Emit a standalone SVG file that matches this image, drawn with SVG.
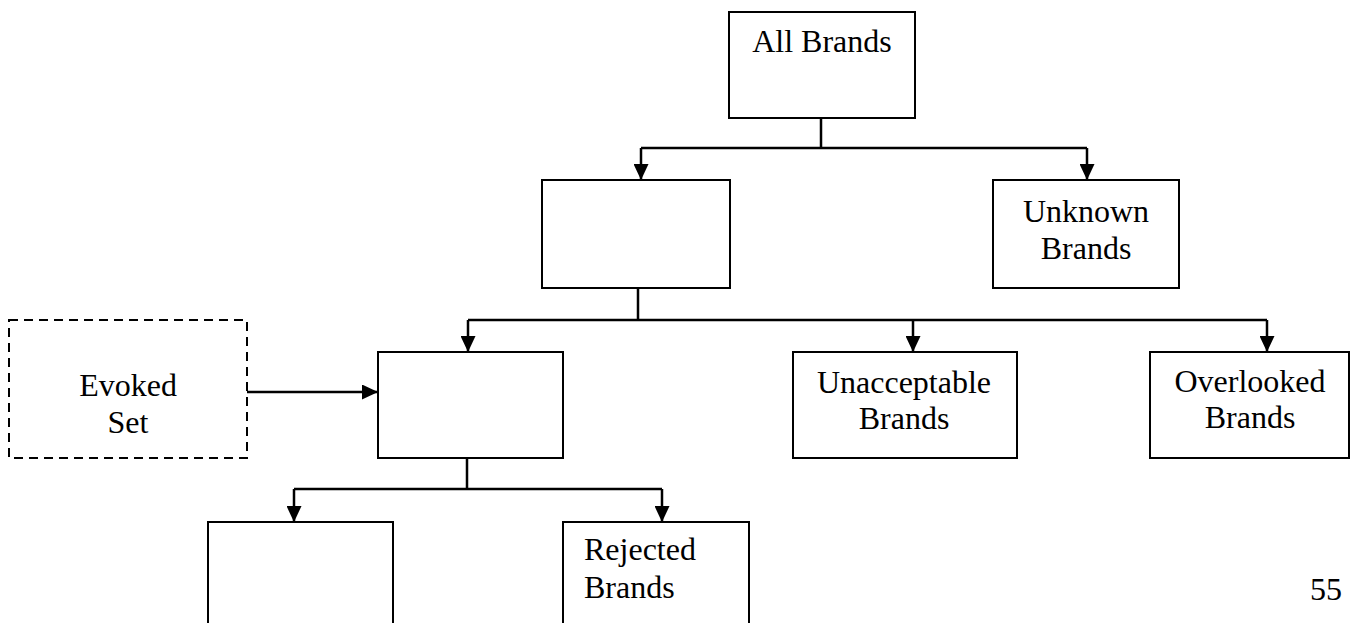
<svg xmlns="http://www.w3.org/2000/svg" width="1351" height="623" viewBox="0 0 1351 623">
<defs>
<marker id="ah" viewBox="0 0 16 15" refX="16" refY="7.5" markerWidth="16" markerHeight="15" markerUnits="userSpaceOnUse" orient="auto">
<path d="M0,0 L16,7.5 L0,15 Z" fill="#000"/>
</marker>
<style>
.box{fill:#fff;stroke:#000;stroke-width:2}
.dash{fill:#fff;stroke:#000;stroke-width:2;stroke-dasharray:9,6}
.ln{fill:none;stroke:#000;stroke-width:2.5}
.ar{fill:none;stroke:#000;stroke-width:2.5;marker-end:url(#ah)}
text{font-family:"Liberation Serif","Times New Roman",serif;font-size:32px;fill:#000}
.c{text-anchor:middle}
</style>
</defs>
<rect width="1351" height="623" fill="#fff"/>
<g id="connectors">
<path class="ln" d="M821,118 V148 M641,148 H1087"/>
<path class="ar" d="M641,148 V180"/>
<path class="ar" d="M1087,148 V180"/>
<path class="ln" d="M638,288 V320 M468,320 H1267"/>
<path class="ar" d="M468,320 V352"/>
<path class="ar" d="M913,320 V352"/>
<path class="ar" d="M1267,320 V352"/>
<path class="ar" d="M247,392 H378"/>
<path class="ln" d="M467,458 V489 M294,489 H662"/>
<path class="ar" d="M294,489 V522"/>
<path class="ar" d="M662,489 V522"/>
</g>
<g id="all-brands"><rect class="box" x="729" y="12" width="186" height="106"/><text class="c" x="822" y="52">All Brands</text></g>
<g id="known-brands"><rect class="box" x="542" y="180" width="188" height="108"/></g>
<g id="unknown-brands"><rect class="box" x="993" y="180" width="186" height="108"/><text class="c" x="1086" y="222">Unknown</text><text class="c" x="1086" y="259">Brands</text></g>
<g id="evoked-set"><rect class="dash" x="9" y="320" width="238" height="138"/><text class="c" x="128" y="396">Evoked</text><text class="c" x="128" y="433">Set</text></g>
<g id="acceptable-brands"><rect class="box" x="378" y="352" width="185" height="106"/></g>
<g id="unacceptable-brands"><rect class="box" x="793" y="352" width="224" height="106"/><text class="c" x="904" y="393">Unacceptable</text><text class="c" x="904" y="429">Brands</text></g>
<g id="overlooked-brands"><rect class="box" x="1150" y="352" width="199" height="106"/><text class="c" x="1250" y="392">Overlooked</text><text class="c" x="1250" y="428">Brands</text></g>
<g id="purchased-brands"><rect class="box" x="208" y="522" width="185" height="110"/></g>
<g id="rejected-brands"><rect class="box" x="563" y="522" width="186" height="110"/><text x="584" y="560">Rejected</text><text x="584" y="598">Brands</text></g>
<text x="1310" y="600">55</text>
</svg>
